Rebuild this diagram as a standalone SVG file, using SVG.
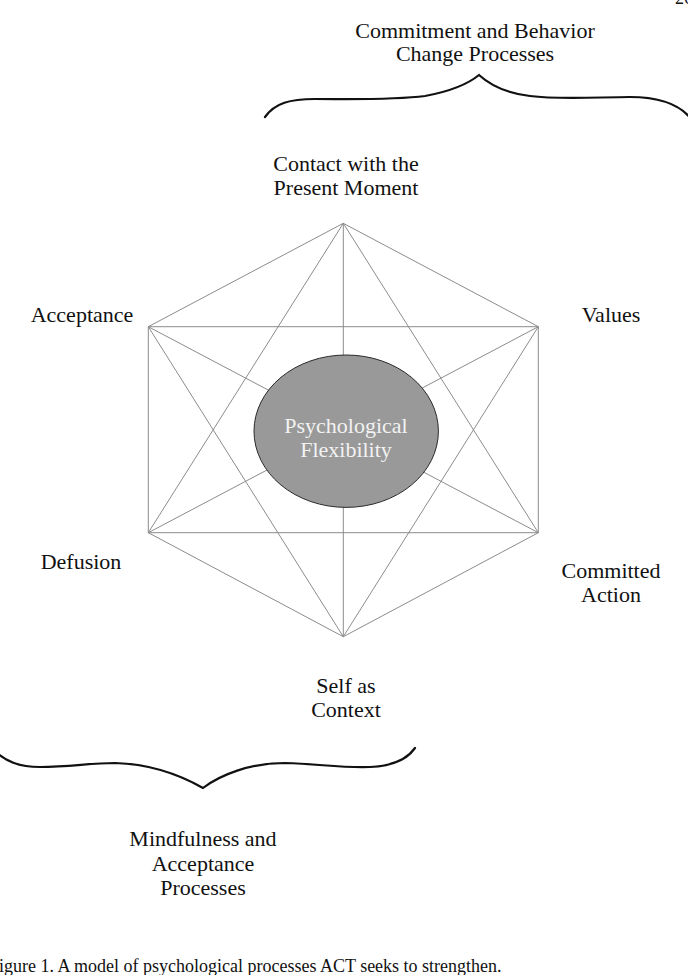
<svg xmlns="http://www.w3.org/2000/svg" width="688" height="975" viewBox="0 0 688 975">
<style>
text{font-family:"Liberation Serif","Times New Roman",serif;font-size:22px;fill:#111;text-anchor:middle}
.edge{stroke:#8c8c8c;stroke-width:1;fill:none}
.brace{stroke:#111;stroke-width:2.2;fill:none;stroke-linecap:round;stroke-linejoin:miter}
.cap{font-size:18px;text-anchor:start}
.inner{fill:#f2f2f2}
</style>
<rect width="688" height="975" fill="#fff"/>
<text class="cap" x="675" y="4">26</text>
<g id="connectors">
<line class="edge" x1="343.3" y1="223.3" x2="148.3" y2="326.7"/>
<line class="edge" x1="343.3" y1="223.3" x2="538.3" y2="326.7"/>
<line class="edge" x1="343.3" y1="223.3" x2="148.3" y2="532.7"/>
<line class="edge" x1="343.3" y1="223.3" x2="538.3" y2="532.7"/>
<line class="edge" x1="343.3" y1="223.3" x2="343.3" y2="636.7"/>
<line class="edge" x1="148.3" y1="326.7" x2="538.3" y2="326.7"/>
<line class="edge" x1="148.3" y1="326.7" x2="148.3" y2="532.7"/>
<line class="edge" x1="148.3" y1="326.7" x2="538.3" y2="532.7"/>
<line class="edge" x1="148.3" y1="326.7" x2="343.3" y2="636.7"/>
<line class="edge" x1="538.3" y1="326.7" x2="538.3" y2="532.7"/>
<line class="edge" x1="538.3" y1="326.7" x2="148.3" y2="532.7"/>
<line class="edge" x1="538.3" y1="326.7" x2="343.3" y2="636.7"/>
<line class="edge" x1="148.3" y1="532.7" x2="538.3" y2="532.7"/>
<line class="edge" x1="148.3" y1="532.7" x2="343.3" y2="636.7"/>
<line class="edge" x1="538.3" y1="532.7" x2="343.3" y2="636.7"/>
</g>
<g id="center">
<ellipse cx="346.2" cy="431.2" rx="92.2" ry="76.2" fill="#999" stroke="#2a2a2a" stroke-width="1"/>
<text class="inner" x="346" y="433">Psychological</text>
<text class="inner" x="346" y="457">Flexibility</text>
</g>
<g id="contact">
<text x="346" y="171">Contact with the</text>
<text x="346" y="195">Present Moment</text>
</g>
<g id="acceptance"><text x="82" y="322">Acceptance</text></g>
<g id="values"><text x="611" y="322">Values</text></g>
<g id="defusion"><text x="81" y="569">Defusion</text></g>
<g id="committed">
<text x="611" y="578">Committed</text>
<text x="611" y="602">Action</text>
</g>
<g id="self">
<text x="346" y="693">Self as</text>
<text x="346" y="717">Context</text>
</g>
<g id="commitment-brace">
<path class="brace" d="M265,117 C275,103 290,99 315,99 C355,99 395,100 425,96 C452,91 468,84 479,75 C490,85 505,93 530,96 C560,100 600,97 630,97 C660,97 680,104 692,120"/>
<text x="475" y="38">Commitment and Behavior</text>
<text x="475" y="61">Change Processes</text>
</g>
<g id="mindfulness-brace">
<path class="brace" d="M-8,748 C5,762 20,767 40,767 C70,767 90,763 115,763 C150,764 180,775 203,788 C220,775 250,763 285,763 C320,764 340,768 370,767 C395,766 408,758 415,748"/>
<text x="203" y="846">Mindfulness and</text>
<text x="203" y="871">Acceptance</text>
<text x="203" y="895">Processes</text>
</g>
<text class="cap" x="-11" y="972">Figure 1. A model of psychological processes ACT seeks to strengthen.</text>
</svg>
